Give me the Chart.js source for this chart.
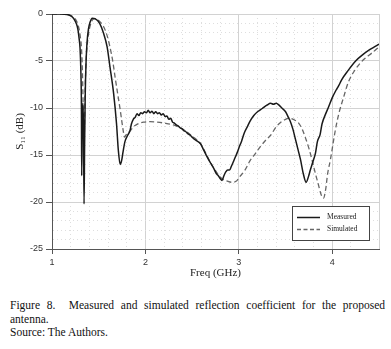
<!DOCTYPE html>
<html>
<head>
<meta charset="utf-8">
<script src="https://cdn.jsdelivr.net/npm/chart.js@4.4.0/dist/chart.umd.min.js"></script>
<style>
  body { margin: 0; background: #fff; }
  #wrap { position: relative; width: 391px; height: 349px; overflow: hidden; }
  #s11Chart { position: absolute; left: 0; top: 0; }
  #caption {
    position: absolute; left: 10px; top: 299px; width: 375px;
    font-family: "Liberation Serif", "Times New Roman", serif;
    font-size: 11.5px; line-height: 13.5px; color: #111; text-align: justify;
  }
</style>
</head>
<body>
<div id="wrap">
  <canvas id="s11Chart" width="391" height="285"></canvas>
  <div id="caption">Figure 8.&nbsp; Measured and simulated reflection coefficient for the proposed antenna.<br>Source: The Authors.</div>
</div>
<script>
// frequency (GHz) and S11 (dB)
const measuredFreq = [1.00, 1.10, 1.16, 1.20, 1.23, 1.25, 1.27, 1.28, 1.29, 1.30, 1.31, 1.315, 1.318, 1.323, 1.33, 1.337, 1.343, 1.349, 1.355, 1.365, 1.375, 1.39, 1.41, 1.43, 1.46, 1.51, 1.55, 1.59, 1.62, 1.66, 1.69, 1.71, 1.73, 1.745, 1.76, 1.78, 1.81, 1.835, 1.85, 1.87, 1.89, 1.91, 1.93, 1.95, 1.97, 1.99, 2.01, 2.03, 2.05, 2.07, 2.09, 2.11, 2.13, 2.15, 2.17, 2.19, 2.21, 2.23, 2.25, 2.27, 2.29, 2.31, 2.33, 2.35, 2.37, 2.39, 2.41, 2.43, 2.45, 2.48, 2.50, 2.52, 2.55, 2.59, 2.62, 2.66, 2.70, 2.73, 2.76, 2.78, 2.80, 2.82, 2.84, 2.86, 2.88, 2.90, 2.92, 2.95, 2.98, 3.01, 3.03, 3.06, 3.09, 3.12, 3.16, 3.20, 3.23, 3.27, 3.30, 3.34, 3.37, 3.40, 3.43, 3.46, 3.50, 3.53, 3.55, 3.58, 3.60, 3.63, 3.66, 3.69, 3.72, 3.745, 3.765, 3.79, 3.82, 3.84, 3.87, 3.89, 3.93, 3.96, 4.00, 4.03, 4.07, 4.10, 4.17, 4.25, 4.33, 4.40, 4.45, 4.50];
const measuredDb = [0, 0, -0.05, -0.2, -0.45, -0.8, -1.3, -1.8, -2.6, -3.6, -6.5, -10, -17.2, -12, -9.5, -12, -20.2, -14, -9, -5, -3, -1.6, -0.8, -0.45, -0.5, -1.0, -2.0, -3.5, -5.6, -8.5, -11.6, -14.5, -16.0, -15.6, -14.7, -13.6, -12.9, -12.4, -11.7, -11.2, -11.0, -10.6, -10.8, -10.5, -10.6, -10.4, -10.5, -10.25, -10.5, -10.35, -10.6, -10.4, -10.6, -10.5, -10.75, -10.6, -10.9, -10.85, -11.2, -11.1, -11.5, -11.6, -11.8, -11.9, -12.1, -12.2, -12.4, -12.5, -12.7, -12.9, -13.1, -13.3, -13.5, -13.8, -14.4, -15.2, -15.9, -16.4, -17.0, -17.2, -17.5, -17.7, -17.2, -16.8, -16.6, -16.6, -16.2, -15.5, -14.8, -14.0, -13.5, -12.6, -12.0, -11.4, -10.8, -10.4, -10.2, -9.9, -9.7, -9.5, -9.6, -9.5, -9.7, -10.0, -10.4, -11.0, -11.4, -12.3, -13.1, -14.3, -15.5, -17.0, -17.9, -17.3, -16.6, -15.8, -14.8, -13.6, -12.8, -11.7, -10.6, -9.9, -8.9, -8.3, -7.6, -7.0, -6.0, -5.0, -4.3, -3.8, -3.5, -3.2];

const simulatedFreq = [1.00, 1.10, 1.16, 1.20, 1.23, 1.26, 1.28, 1.30, 1.32, 1.33, 1.337, 1.342, 1.348, 1.355, 1.365, 1.38, 1.40, 1.42, 1.44, 1.47, 1.50, 1.55, 1.59, 1.62, 1.65, 1.675, 1.70, 1.73, 1.75, 1.765, 1.775, 1.79, 1.81, 1.84, 1.87, 1.90, 1.94, 1.98, 2.05, 2.12, 2.20, 2.30, 2.37, 2.44, 2.50, 2.55, 2.59, 2.64, 2.69, 2.74, 2.78, 2.83, 2.87, 2.925, 2.97, 3.01, 3.06, 3.12, 3.18, 3.23, 3.29, 3.34, 3.40, 3.44, 3.50, 3.55, 3.60, 3.64, 3.68, 3.71, 3.75, 3.78, 3.82, 3.85, 3.88, 3.905, 3.93, 3.95, 3.98, 4.00, 4.03, 4.07, 4.12, 4.17, 4.24, 4.33, 4.43, 4.50];
const simulatedDb = [0, 0, -0.05, -0.15, -0.35, -0.7, -1.2, -2.2, -4.5, -8, -12, -15, -12, -8, -5, -3, -1.6, -0.9, -0.55, -0.5, -0.7, -1.3, -2.3, -3.5, -5.0, -6.7, -8.3, -10.2, -11.6, -12.6, -13.1, -12.9, -12.7, -12.4, -12.0, -11.8, -11.6, -11.5, -11.45, -11.5, -11.6, -11.8, -12.1, -12.5, -13.0, -13.4, -13.8, -14.7, -15.7, -16.5, -17.1, -17.6, -17.75, -17.9, -17.8, -17.3, -16.7, -15.6, -14.8, -14.1, -13.4, -12.9, -12.0, -11.6, -11.2, -11.1, -11.3, -11.6, -12.3, -13.1, -14.3, -15.4, -17.0, -18.1, -19.2, -19.6, -18.6, -17.0, -15.5, -14.3, -12.5, -10.6, -8.9, -7.3, -6.0, -4.9, -4.1, -3.5];

const seriesNames = ['Measured', 'Simulated'];
const xTickLabels = [1, 2, 3, 4];
const yTickLabels = [0, -5, -10, -15, -20, -25];

function toPoints(xs, ys) {
    return xs.map((x, i) => ({ x: x, y: ys[i] }));
}

function isXMajor(v) {
    return xTickLabels.some(t => Math.abs(t - v) < 1e-6);
}
function isYMajor(v) {
    return yTickLabels.some(t => Math.abs(t - v) < 1e-6);
}

// legend box inside the plot, lower right
const boxLegend = {
    id: 'boxLegend',
    afterDraw(chart) {
        const ctx = chart.ctx;
        ctx.save();
        ctx.fillStyle = '#fff';
        ctx.fillRect(292, 206, 77, 34);
        ctx.strokeStyle = '#444';
        ctx.lineWidth = 1;
        ctx.strokeRect(292.5, 206.5, 77, 34);

        const rows = [
            { y: 217.5, color: '#1a1a1a', dash: [], width: 1.5 },
            { y: 229.5, color: '#666', dash: [4, 2.5], width: 1.3 }
        ];
        rows.forEach((r, i) => {
            ctx.beginPath();
            ctx.setLineDash(r.dash);
            ctx.strokeStyle = r.color;
            ctx.lineWidth = r.width;
            ctx.moveTo(297, r.y);
            ctx.lineTo(320, r.y);
            ctx.stroke();
            ctx.setLineDash([]);
            ctx.fillStyle = '#222';
            ctx.font = '7.5px "Liberation Serif"';
            ctx.textBaseline = 'middle';
            ctx.fillText(seriesNames[i], 327, r.y);
        });
        ctx.restore();
    }
};

const ctx = document.getElementById('s11Chart').getContext('2d');
const chart = new Chart(ctx, {
    type: 'line',
    data: {
        datasets: [
            {
                label: seriesNames[0],
                data: toPoints(measuredFreq, measuredDb),
                borderColor: '#1a1a1a',
                borderWidth: 1.5,
                pointRadius: 0,
                cubicInterpolationMode: 'monotone'
            },
            {
                label: seriesNames[1],
                data: toPoints(simulatedFreq, simulatedDb),
                borderColor: '#666',
                borderWidth: 1.3,
                borderDash: [5, 3],
                pointRadius: 0,
                cubicInterpolationMode: 'monotone'
            }
        ]
    },
    options: {
        responsive: false,
        animation: false,
        layout: { padding: { top: 14, right: 12, left: 0, bottom: 0 } },
        plugins: {
            legend: { display: false },
            tooltip: { enabled: false }
        },
        scales: {
            x: {
                type: 'linear',
                min: 1,
                max: 4.5,
                afterFit: s => { s.height = 36; },
                ticks: {
                    stepSize: 0.2,
                    autoSkip: false,
                    maxRotation: 0,
                    padding: 3,
                    color: '#333',
                    font: { family: 'Liberation Sans', size: 9 },
                    callback: v => isXMajor(v) ? String(Math.round(v)) : ''
                },
                grid: {
                    color: c => (c.tick && !isXMajor(c.tick.value) && c.tick.value < 4.49) ? '#dedede' : '#d2d2d2',
                    tickColor: c => (c.tick && isXMajor(c.tick.value)) ? '#555' : 'rgba(0,0,0,0)',
                    tickLength: 5,
                    lineWidth: 1
                },
                border: {
                    display: true,
                    color: '#555',
                    width: 1,
                    dash: c => (c.tick && !isXMajor(c.tick.value) && c.tick.value < 4.49) ? [1, 3] : []
                },
                title: {
                    display: true,
                    text: 'Freq (GHz)',
                    color: '#222',
                    font: { family: 'Liberation Serif', size: 11 },
                    padding: { top: 0, bottom: 5 }
                }
            },
            y: {
                min: -25,
                max: 0,
                afterFit: s => { s.width = 52; },
                ticks: {
                    stepSize: 1,
                    autoSkip: false,
                    padding: 3,
                    color: '#333',
                    font: { family: 'Liberation Sans', size: 9 },
                    callback: v => isYMajor(v) ? String(Math.round(v)) : ''
                },
                grid: {
                    color: c => (c.tick && !isYMajor(c.tick.value)) ? '#dedede' : '#d2d2d2',
                    tickColor: c => (c.tick && isYMajor(c.tick.value)) ? '#555' : 'rgba(0,0,0,0)',
                    tickLength: 6,
                    lineWidth: 1
                },
                border: {
                    display: true,
                    color: '#555',
                    width: 1,
                    dash: c => (c.tick && !isYMajor(c.tick.value)) ? [1, 3] : []
                },
                title: {
                    display: true,
                    text: 'S\u2081\u2081 (dB)',
                    color: '#222',
                    font: { family: 'Liberation Serif', size: 11 },
                    padding: { top: 14, bottom: 0 }
                }
            }
        }
    },
    plugins: [boxLegend]
});
</script>
</body>
</html>
